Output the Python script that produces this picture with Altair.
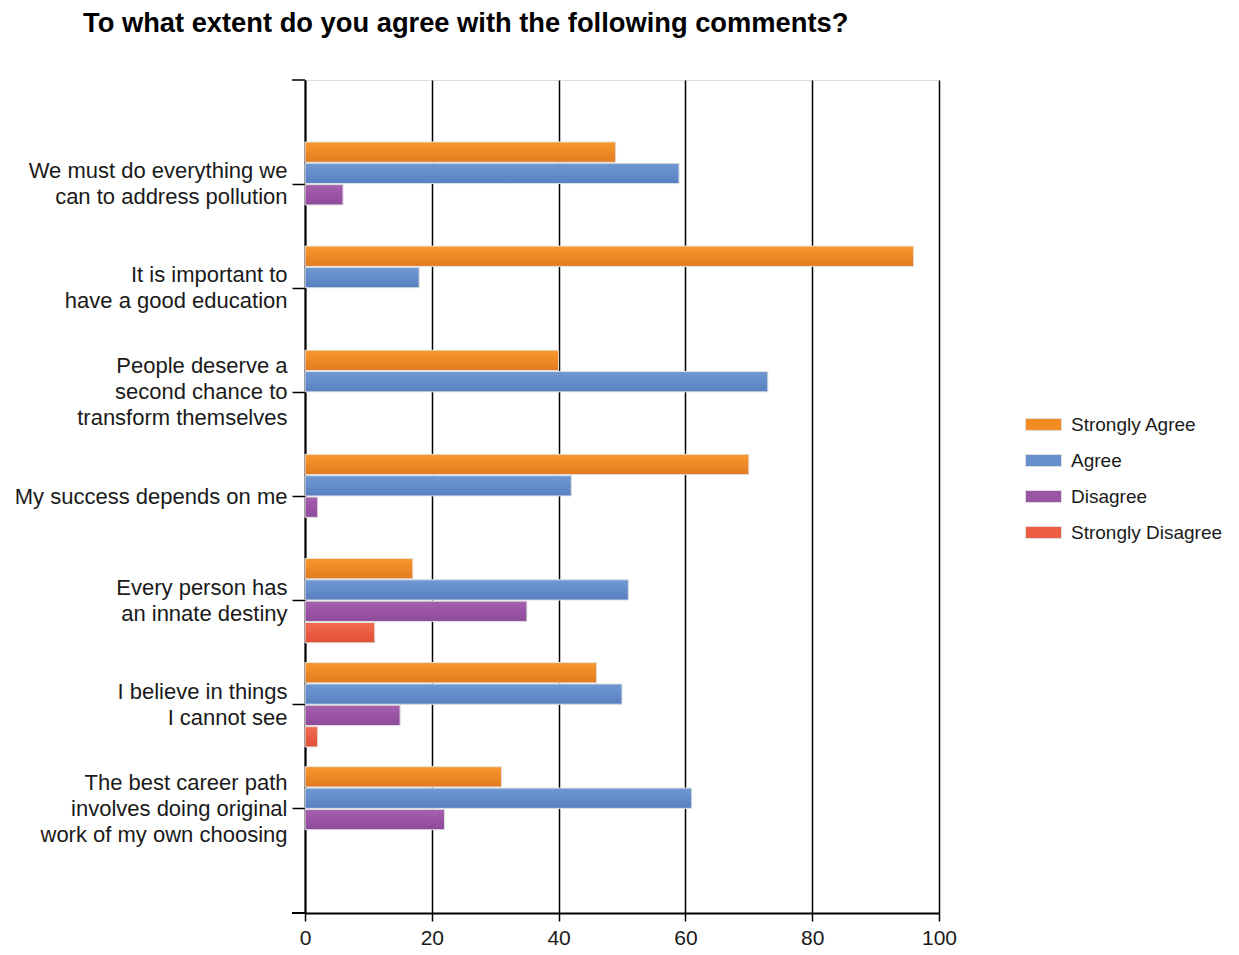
import altair as alt
import pandas as pd

categories = [
    "We must do everything we|can to address pollution",
    "It is important to|have a good education",
    "People deserve a|second chance to|transform themselves",
    "My success depends on me",
    "Every person has|an innate destiny",
    "I believe in things|I cannot see",
    "The best career path|involves doing original|work of my own choosing",
]
series = ["Strongly Agree", "Agree", "Disagree", "Strongly Disagree"]
strongly_agree = [49, 96, 40, 70, 17, 46, 31]
agree = [59, 18, 73, 42, 51, 50, 61]
disagree = [6, 0, 0, 2, 35, 15, 22]
strongly_disagree = [0, 0, 0, 0, 11, 2, 0]
x_ticks = [0, 20, 40, 60, 80, 100]

flat_colors = ["#F28C22", "#6690CC", "#9A56A5", "#EC5D43"]
top_colors = ["#F8992B", "#7099D3", "#A560AF", "#F26B50"]
bottom_colors = ["#E27A22", "#5880C1", "#8E4A9A", "#E04F38"]

rows = []
for s, vals in zip(series, [strongly_agree, agree, disagree, strongly_disagree]):
    for c, v in zip(categories, vals):
        if v > 0:
            rows.append({"category": c, "series": s, "value": v})
df = pd.DataFrame(rows)

FONT = "Liberation Sans"
W, H = 634, 833
LH = 26

x = alt.X(
    "value:Q",
    scale=alt.Scale(domain=[0, 100], nice=False),
    axis=alt.Axis(
        values=x_ticks, title=None, grid=True, gridColor="black", gridWidth=1.5,
        gridOpacity=1, domainColor="black", domainWidth=2, tickColor="black",
        tickSize=8, tickWidth=1.5, labelFontSize=21, labelPadding=6,
        labelColor="#1a1a1a", labelFont=FONT, labelFlush=False,
    ),
)
y = alt.Y(
    "category:N",
    sort=categories,
    scale=alt.Scale(domain=categories, paddingInner=0.19, paddingOuter=0.595),
    axis=alt.Axis(
        title=None, labelExpr="split(datum.label, '|')", labelFontSize=22,
        labelLineHeight=LH, labelFont=FONT, labelColor="#1a1a1a", labelPadding=5,
        labelOffset={
            "condition": [
                {"test": "length(split(datum.value, '|')) == 3", "value": -LH},
                {"test": "length(split(datum.value, '|')) == 2", "value": -LH / 2},
            ],
            "value": 0,
        },
        tickSize=13, tickColor="black", tickWidth=1.5, domainColor="black",
        domainWidth=2, grid=False, labelLimit=400,
    ),
)
yoff = alt.YOffset("series:N", sort=series,
                   scale=alt.Scale(domain=series, paddingInner=0.05))

legend_layer = alt.Chart(df).mark_bar().encode(
    x=x, y=y, yOffset=yoff,
    color=alt.Color(
        "series:N",
        scale=alt.Scale(domain=series, range=flat_colors),
        legend=alt.Legend(
            title=None, orient="none", legendX=720, legendY=326,
            labelFontSize=19, labelFont=FONT, labelColor="#1a1a1a",
            symbolType="M-1,-0.333H1V0.333H-1Z", symbolSize=1296,
            symbolStrokeColor="#dddddd", symbolStrokeWidth=1,
            labelOffset=9, rowPadding=7,
        ),
    ),
)

layers = [legend_layer]
for s, top, bot in zip(series, top_colors, bottom_colors):
    grad = alt.LinearGradient(
        gradient="linear",
        stops=[alt.GradientStop(color=top, offset=0), alt.GradientStop(color=bot, offset=1)],
        x1=0, x2=0, y1=0, y2=1,
    )
    layers.append(
        alt.Chart(df).transform_filter(alt.datum.series == s)
        .mark_bar(fill=grad, stroke="#e2e2e2", strokeWidth=1)
        .encode(x=x, y=y, yOffset=yoff)
    )

edge = pd.DataFrame({"e": [0]})
top_tick = alt.Chart(edge).mark_rule(color="black", strokeWidth=1.5).encode(
    x=alt.value(-13), x2=alt.value(0), y=alt.value(0))
bottom_tick = alt.Chart(edge).mark_rule(color="black", strokeWidth=2).encode(
    x=alt.value(-13), x2=alt.value(0), y=alt.value(H))
layers += [top_tick, bottom_tick]

chart = alt.layer(*layers).properties(
    width=W, height=H,
    autosize=alt.AutoSizeParams(type="none"),
    padding={"left": 297, "top": 72, "right": 290, "bottom": 34},
    title=alt.TitleParams(
        "To what extent do you agree with the following comments?",
        anchor="start", frame="group", dx=-222, offset=42,
        fontSize=27.3, font=FONT, fontWeight="bold", color="black",
    ),
).configure_view(stroke=None).configure(background="white")

chart.save("out.html", embed_options={"renderer": "svg", "actions": False})
